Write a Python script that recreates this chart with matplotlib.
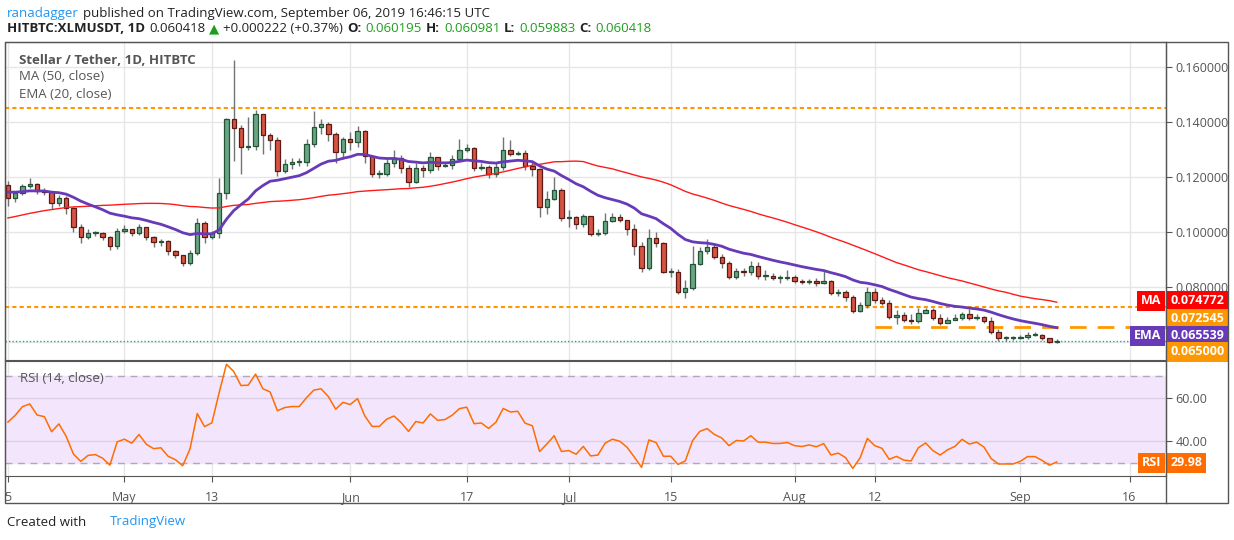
import numpy as np
import pandas as pd
import matplotlib
matplotlib.use("Agg")
import matplotlib.pyplot as plt
import matplotlib.transforms as mtrans
from matplotlib.patches import Rectangle

plt.rcParams['font.family'] = ['Open Sans', 'DejaVu Sans']

# daily closes, Apr 15 .. Sep 6 2019
closes = [0.1124, 0.1142, 0.1167, 0.1175, 0.1149, 0.1145, 0.1105, 0.1124, 0.1087, 0.1018,
          0.0982, 0.0996, 0.0998, 0.0982, 0.0949, 0.1004, 0.1011, 0.0996, 0.1018, 0.0982,
          0.0964, 0.0966, 0.0931, 0.0916, 0.0887, 0.0924, 0.1033, 0.0982, 0.0996, 0.1142,
          0.1411, 0.1378, 0.1309, 0.1313, 0.1429, 0.1353, 0.1335, 0.1222, 0.1247, 0.1255,
          0.1255, 0.1320, 0.1382, 0.1393, 0.1356, 0.1291, 0.1338, 0.1327, 0.1367, 0.1276,
          0.1211, 0.1211, 0.1251, 0.1269, 0.1233, 0.1182, 0.1233, 0.1225, 0.1273, 0.1240,
          0.1244, 0.1265, 0.1298, 0.1305, 0.1233, 0.1236, 0.1211, 0.1236, 0.1298, 0.1284,
          0.1287, 0.1240, 0.1229, 0.1091, 0.1120, 0.1153, 0.1051, 0.1055, 0.1029, 0.1058,
          0.0993, 0.0996, 0.1040, 0.1055, 0.1044, 0.1011, 0.0949, 0.0869, 0.0978, 0.0960,
          0.0855, 0.0855, 0.0782, 0.0796, 0.0884, 0.0931, 0.0945, 0.0909, 0.0887, 0.0836,
          0.0858, 0.0855, 0.0876, 0.0840, 0.0840, 0.0833, 0.0833, 0.0836, 0.0822, 0.0818,
          0.0822, 0.0815, 0.0822, 0.0778, 0.0782, 0.0764, 0.0713, 0.0735, 0.0782, 0.0753,
          0.0742, 0.0691, 0.0698, 0.0680, 0.0676, 0.0705, 0.0716, 0.0687, 0.0669, 0.0680,
          0.0687, 0.0702, 0.0687, 0.0691, 0.0676, 0.0636, 0.0614, 0.0614, 0.0614, 0.0618,
          0.0625, 0.0625, 0.0614, 0.0600, 0.0604]
first_open = 0.1171
highs = [0.1185, 0.1150, 0.1175, 0.1195, 0.1180, 0.1160, 0.1150, 0.1135, 0.1130, 0.1090,
         0.1030, 0.1010, 0.1005, 0.1000, 0.0985, 0.1015, 0.1025, 0.1012, 0.1030, 0.1020,
         0.0985, 0.0975, 0.0970, 0.0935, 0.0918, 0.0935, 0.1050, 0.1040, 0.1005, 0.1195,
         0.1415, 0.1625, 0.1390, 0.1420, 0.1445, 0.1430, 0.1360, 0.1345, 0.1265, 0.1270,
         0.1270, 0.1340, 0.1440, 0.1410, 0.1400, 0.1365, 0.1345, 0.1365, 0.1385, 0.1370,
         0.1280, 0.1225, 0.1265, 0.1300, 0.1280, 0.1245, 0.1250, 0.1245, 0.1290, 0.1255,
         0.1252, 0.1280, 0.1340, 0.1320, 0.1310, 0.1250, 0.1245, 0.1250, 0.1345, 0.1335,
         0.1295, 0.1300, 0.1260, 0.1232, 0.1150, 0.1200, 0.1160, 0.1080, 0.1060, 0.1065,
         0.1060, 0.1010, 0.1070, 0.1070, 0.1065, 0.1045, 0.1030, 0.0965, 0.1010, 0.1000,
         0.0965, 0.0870, 0.0865, 0.0825, 0.0950, 0.0945, 0.0975, 0.0955, 0.0920, 0.0895,
         0.0870, 0.0870, 0.0895, 0.0890, 0.0860, 0.0850, 0.0842, 0.0860, 0.0842, 0.0830,
         0.0830, 0.0832, 0.0858, 0.0825, 0.0792, 0.0790, 0.0770, 0.0745, 0.0800, 0.0795,
         0.0765, 0.0752, 0.0715, 0.0708, 0.0700, 0.0725, 0.0725, 0.0722, 0.0700, 0.0690,
         0.0700, 0.0708, 0.0720, 0.0700, 0.0695, 0.0690, 0.0648, 0.0622, 0.0622, 0.0625,
         0.0635, 0.0635, 0.0628, 0.0615, 0.0610]
lows = [0.1095, 0.1110, 0.1135, 0.1160, 0.1140, 0.1135, 0.1085, 0.1095, 0.1065, 0.1000,
        0.0960, 0.0975, 0.0985, 0.0970, 0.0935, 0.0940, 0.0995, 0.0985, 0.0990, 0.0970,
        0.0945, 0.0950, 0.0915, 0.0905, 0.0875, 0.0880, 0.0915, 0.0960, 0.0975, 0.0980,
        0.1120, 0.1260, 0.1210, 0.1300, 0.1300, 0.1285, 0.1300, 0.1205, 0.1215, 0.1230,
        0.1240, 0.1240, 0.1310, 0.1355, 0.1330, 0.1250, 0.1265, 0.1300, 0.1310, 0.1250,
        0.1200, 0.1195, 0.1205, 0.1235, 0.1215, 0.1165, 0.1180, 0.1200, 0.1215, 0.1225,
        0.1235, 0.1228, 0.1260, 0.1290, 0.1222, 0.1225, 0.1195, 0.1200, 0.1225, 0.1275,
        0.1280, 0.1225, 0.1205, 0.1055, 0.1065, 0.1115, 0.1040, 0.1020, 0.1010, 0.1020,
        0.0985, 0.0985, 0.0990, 0.1035, 0.1035, 0.0990, 0.0915, 0.0855, 0.0860, 0.0945,
        0.0850, 0.0835, 0.0775, 0.0760, 0.0790, 0.0880, 0.0920, 0.0900, 0.0870, 0.0830,
        0.0830, 0.0840, 0.0845, 0.0830, 0.0825, 0.0825, 0.0815, 0.0825, 0.0815, 0.0810,
        0.0812, 0.0805, 0.0812, 0.0770, 0.0768, 0.0750, 0.0705, 0.0710, 0.0725, 0.0740,
        0.0735, 0.0685, 0.0665, 0.0672, 0.0665, 0.0670, 0.0705, 0.0680, 0.0660, 0.0670,
        0.0680, 0.0680, 0.0680, 0.0680, 0.0670, 0.0630, 0.0605, 0.0605, 0.0608, 0.0610,
        0.0612, 0.0620, 0.0608, 0.0595, 0.0598]
# closes before the visible window (needed for MA50 / EMA20 / RSI warm-up)
prior_closes = [0.0880, 0.0875, 0.0890, 0.0905, 0.0898, 0.0912, 0.0920, 0.0908, 0.0915, 0.0925,
                0.0932, 0.0918, 0.0905, 0.0910, 0.0922, 0.0930, 0.0945, 0.0938, 0.0950, 0.0960,
                0.0985, 0.1010, 0.1050, 0.1080, 0.1065, 0.1090, 0.1110, 0.1095, 0.1120, 0.1150,
                0.1180, 0.1210, 0.1245, 0.1230, 0.1195, 0.1170, 0.1155, 0.1180, 0.1160, 0.1140,
                0.1155, 0.1175, 0.1160, 0.1145, 0.1170, 0.1185, 0.1160, 0.1150, 0.1171]

tick_pos = [0, 16, 28, 47, 63, 77, 91, 108, 119, 139, 154]
tick_lab = ["5", "May", "13", "Jun", "17", "Jul", "15", "Aug", "12", "Sep", "16"]

resist_hi = 0.145
resist_lo = 0.072545
support = 0.0655
last_price = 0.060418

n = len(closes)
x = np.arange(n)
opens = [first_open] + closes[:-1]
allc = pd.Series(prior_closes + closes)
ma = allc.rolling(50).mean().values[-n:]
ema = allc.ewm(span=20, adjust=False).mean().values[-n:]
d = allc.diff()
up = d.clip(lower=0).ewm(alpha=1 / 14, adjust=False).mean()
dn = (-d.clip(upper=0)).ewm(alpha=1 / 14, adjust=False).mean()
rsi = (100 - 100 / (1 + up / dn)).values[-n:]

W, H = 1234, 540
fig = plt.figure(figsize=(W / 100, H / 100), dpi=100)
fig.patch.set_facecolor("white")

def frac(l, t, r, b):
    return [l / W, 1 - b / H, (r - l) / W, (b - t) / H]

ax = fig.add_axes(frac(5, 42, 1166, 360))
ax2 = fig.add_axes(frac(5, 361, 1166, 476), sharex=ax)
xmin, xmax = -0.4, 159.0
ax.set_xlim(xmin, xmax)
ax.set_ylim(0.05345, 0.1691)
ax2.set_ylim(24, 76.9)

grid_c = "#e6e6e6"
for a in (ax, ax2):
    for xp in tick_pos:
        a.axvline(xp, color=grid_c, lw=1, zorder=0)
    for s in a.spines.values():
        s.set_color("#555555")
    a.tick_params(axis="both", length=0, colors="#555555", labelsize=9)
    a.yaxis.tick_right()

for yv in [0.06, 0.08, 0.10, 0.12, 0.14, 0.16]:
    ax.axhline(yv, color=grid_c, lw=1, zorder=0)
ax.set_yticks([0.08, 0.10, 0.12, 0.14, 0.16])
ax.set_yticklabels(["%.6f" % v for v in [0.08, 0.10, 0.12, 0.14, 0.16]])
ax.tick_params(axis="y", length=4, pad=3)
plt.setp(ax.get_xticklabels(), visible=False)

# candles
for i in range(n):
    o, c = opens[i], closes[i]
    upc = c >= o
    fc = "#6ba583" if upc else "#d75442"
    ec = "#225437" if upc else "#5b1a13"
    ax.vlines(x[i], lows[i], highs[i], color="#737375", lw=1, zorder=2)
    h = abs(c - o)
    if h < 0.0003:
        h = 0.0003
    ax.add_patch(Rectangle((x[i] - 0.3, min(o, c)), 0.6, h, facecolor=fc,
                           edgecolor=ec, lw=0.9, zorder=3))

ax.plot(x, ma, color="#ff1a1a", lw=1, zorder=4)
ax.plot(x, ema, color="#673ab7", lw=2, zorder=4)
ax.axhline(resist_hi, color="#ff9800", lw=1.5, ls=(0, (2, 1.5)), zorder=1)
ax.axhline(resist_lo, color="#ff9800", lw=1.5, ls=(0, (2, 1.5)), zorder=1)
ax.plot([119, xmax], [support, support], color="#ff9800", lw=2, ls=(0, (6, 4)), zorder=1)
ax.axhline(last_price, color="#26a69a", lw=1, ls=(0, (1, 1.5)), zorder=1)

# right-side value boxes
tr = mtrans.blended_transform_factory(ax.transAxes, ax.transData)
def pix2price(py):
    return 0.08 + (287 - py) / 2750.0
def box(yv, txt, col, xa=1.004):
    ax.text(xa, yv, txt, transform=tr, color="white", fontsize=9, fontweight="bold",
            va="center", ha="left", clip_on=False,
            bbox=dict(boxstyle="square,pad=0.3", fc=col, ec="none"))
box(pix2price(301), "0.074772", "#ff0000")
box(pix2price(319), "0.072545", "#ff9800")
box(pix2price(336), "0.065539", "#673ab7")
box(pix2price(352), "0.065000", "#ff9800")
ax.text(0.996, pix2price(301), "MA", transform=tr, color="white", fontsize=9, fontweight="bold",
        va="center", ha="right", bbox=dict(boxstyle="square,pad=0.3", fc="#ff0000", ec="none"))
ax.text(0.996, pix2price(336), "EMA", transform=tr, color="white", fontsize=9, fontweight="bold",
        va="center", ha="right", bbox=dict(boxstyle="square,pad=0.3", fc="#673ab7", ec="none"))

ax.text(14 / 1161, 1 - 18 / 318, "Stellar / Tether, 1D, HITBTC", transform=ax.transAxes,
        fontsize=9.5, fontweight="bold", color="#555555", va="center")
ax.text(14 / 1161, 1 - 35 / 318, "MA (50, close)", transform=ax.transAxes,
        fontsize=9.5, color="#555555", va="center")
ax.text(14 / 1161, 1 - 52 / 318, "EMA (20, close)", transform=ax.transAxes,
        fontsize=9.5, color="#555555", va="center")

# RSI panel
ax2.axhspan(30, 70, color="#f3e5fc", zorder=0)
for yv in (40, 60):
    ax2.axhline(yv, color="#dcd0e6", lw=1, zorder=0)
for yv in (30, 70):
    ax2.axhline(yv, color="#b0a8b8", lw=1, ls=(0, (5, 4)), zorder=1)
ax2.plot(x, rsi, color="#ff6d00", lw=1.1, zorder=3)
ax2.set_yticks([40, 60])
ax2.set_yticklabels(["40.00", "60.00"])
ax2.tick_params(axis="y", length=4, pad=3)
ax2.set_xticks(tick_pos)
ax2.set_xticklabels(tick_lab)
ax2.tick_params(axis="x", pad=7, length=4)
ax2.text(15 / 1161, 1 - 17 / 115, "RSI (14, close)", transform=ax2.transAxes,
         fontsize=9.5, color="#555555", va="center")
tr2 = mtrans.blended_transform_factory(ax2.transAxes, ax2.transData)
ax2.text(1.004, 29.98, "29.98", transform=tr2, color="white", fontsize=9, fontweight="bold",
         va="center", ha="left", clip_on=False,
         bbox=dict(boxstyle="square,pad=0.3", fc="#ff6d00", ec="none"))
ax2.text(0.996, 29.98, "RSI", transform=tr2, color="white", fontsize=9, fontweight="bold",
         va="center", ha="right", bbox=dict(boxstyle="square,pad=0.3", fc="#ff6d00", ec="none"))

# outer frame incl. date strip and right scale
fig.add_artist(Rectangle((5 / W, 1 - 503 / H), (1228 - 5) / W, (503 - 42) / H,
                         transform=fig.transFigure, fill=False, ec="#555555", lw=1))
fig.add_artist(plt.Line2D([1166 / W, 1166 / W], [1 - 503 / H, 1 - 42 / H],
                          transform=fig.transFigure, color="#555555", lw=1))

# header: pieces laid one after another
renderer = fig.canvas.get_renderer()
def chain(px, py, parts, gap=4):
    for s, col, bold in parts:
        t = fig.text(px / W, 1 - py / H, s, va="center", fontsize=9.5, color=col,
                     fontweight="bold" if bold else "normal")
        px = t.get_window_extent(renderer).x1 + gap
chain(7, 13, [("ranadagger", "#2196f3", False),
              ("published on TradingView.com, September 06, 2019 16:46:15 UTC", "#222222", False)])
chain(7, 29, [("HITBTC:XLMUSDT, 1D", "#222222", True), ("0.060418", "#222222", False),
              ("▲", "#1ca01c", False), ("+0.000222 (+0.37%)", "#222222", False),
              ("O:", "#222222", True), ("0.060195", "#1ca01c", False),
              ("H:", "#222222", True), ("0.060981", "#1ca01c", False),
              ("L:", "#222222", True), ("0.059883", "#1ca01c", False),
              ("C:", "#222222", True), ("0.060418", "#1ca01c", False)])
chain(7, 522, [("Created with", "#222222", False), ("TradingView", "#2196f3", False)], gap=24)

fig.savefig("out.png", dpi=100)
